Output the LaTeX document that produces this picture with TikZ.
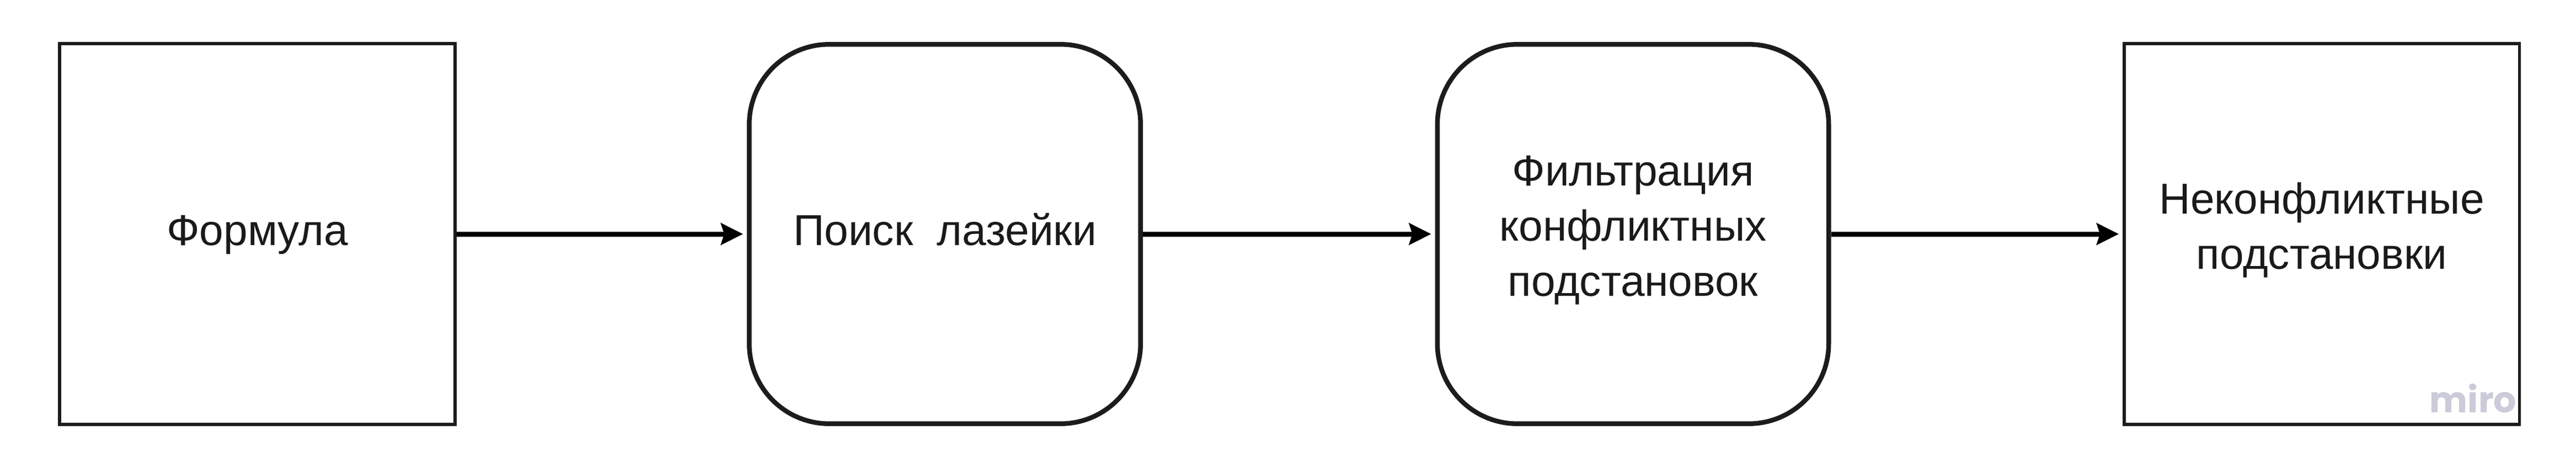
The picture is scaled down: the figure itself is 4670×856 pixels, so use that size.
\documentclass[tikz,border=0pt]{standalone}
\usepackage{fontspec}
\setmainfont{Liberation Sans}
\newfontfamily\mirofont{Poppins}
\usetikzlibrary{arrows.meta}
\definecolor{boxline}{HTML}{1C1C1C}
\definecolor{txt}{HTML}{1A1A1A}
\definecolor{mirogrey}{HTML}{CBCBD9}
\begin{document}
\begin{tikzpicture}[x=0.01cm,y=-0.01cm,
  label text/.style={font=\fontsize{22.3pt}{28.45pt}\selectfont, text=txt, align=center,
    execute at begin node=\strut, execute at end node=\strut, inner sep=0pt},
  sharpbox/.style={label text, draw=boxline, line width=0.055cm, fill=white,
    minimum width=7.17cm, minimum height=6.9cm},
  roundbox/.style={label text, draw=boxline, line width=0.085cm, fill=white,
    rounded corners=1.45cm, minimum width=7.09cm, minimum height=6.87cm},
  flow/.style={draw=black, line width=0.09cm,
    -{Stealth[length=0.40cm, width=0.39cm, inset=0.06cm]}, shorten >=0.07cm}
]
\useasboundingbox[fill=white] (0,0) rectangle (4670,856);
\node[sharpbox] (b1) at (466.5,424) {Формула};
\node[roundbox] (b2) at (1713,424) {Поиск\ \ лазейки};
\node[roundbox] (b3) at (2960.5,424) {Фильтрация\\конфликтных\\подстановок};
\node[sharpbox, minimum width=7.16cm] (b4) at (4209,424) {Неконфликтные\\подстановки};
\draw[flow] (b1.east) -- (b2.west);
\draw[flow] (b2.east) -- (b3.west);
\draw[flow] (b3.east) -- (b4.west);
\node[anchor=base east, inner sep=0pt, text=mirogrey,
  font=\mirofont\bfseries\fontsize{18.5pt}{20pt}\selectfont] (miro) at (4563,747) {miro};
\end{tikzpicture}
\end{document}
